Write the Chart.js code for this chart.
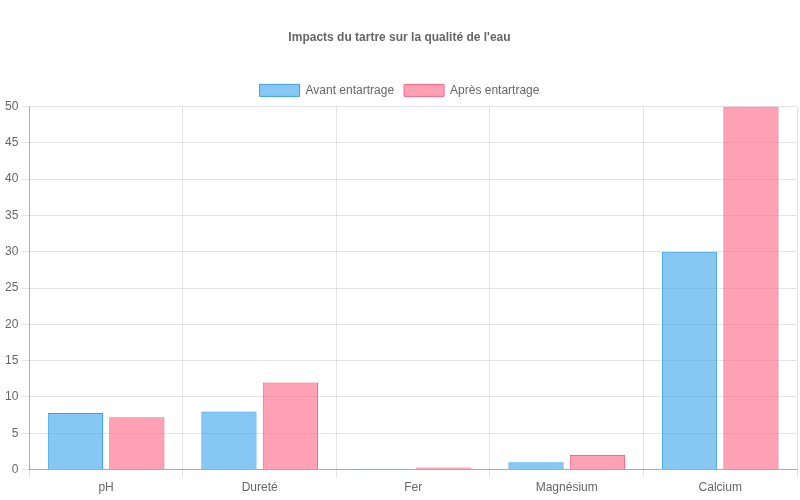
<!DOCTYPE html>
<html>
<head>
<meta charset="utf-8">
<script src="https://cdn.jsdelivr.net/npm/chart.js@4"></script>
<style>
  html, body { margin: 0; padding: 0; background: #fff; }
  #wrap { width: 800px; height: 500px; }
</style>
</head>
<body>
<div id="wrap"><canvas id="Chart-tartre" width="800" height="500"></canvas></div>
<script>
var categories = ['pH', 'Dureté', 'Fer', 'Magnésium', 'Calcium'];
var avantValues = [7.8, 8, 0.1, 1, 30];
var apresValues = [7.2, 12, 0.3, 2, 50];

Chart.defaults.font.family = '"Liberation Sans", Arial, Helvetica, sans-serif';
Chart.defaults.font.size = 12;
Chart.defaults.color = '#666';

var ctx = document.getElementById('Chart-tartre').getContext('2d');
var tartreChart = new Chart(ctx, {
  type: 'bar',
  data: {
    labels: categories,
    datasets: [{
      label: 'Avant entartrage',
      data: avantValues,
      backgroundColor: 'rgba(54, 162, 235, 0.6)',
      borderColor: 'rgb(54, 162, 235)',
      borderWidth: 1
    }, {
      label: 'Après entartrage',
      data: apresValues,
      backgroundColor: 'rgba(255, 99, 132, 0.6)',
      borderColor: 'rgb(255, 99, 132)',
      borderWidth: 1
    }]
  },
  options: {
    responsive: false,
    animation: false,
    layout: {
      padding: { left: 2, right: 3, bottom: 2 }
    },
    plugins: {
      title: {
        display: true,
        text: "Impacts du tartre sur la qualité de l'eau",
        font: { size: 12, weight: 'bold' },
        padding: { top: 30, bottom: 30 }
      },
      legend: {
        labels: { boxWidth: 40, boxHeight: 12 }
      }
    },
    scales: {
      x: {
        grid: { color: 'rgba(0,0,0,0.1)' },
        border: { color: 'rgba(0,0,0,0.25)' }
      },
      y: {
        beginAtZero: true,
        max: 50,
        ticks: { stepSize: 5 },
        grid: { color: 'rgba(0,0,0,0.1)' },
        border: { color: 'rgba(0,0,0,0.25)' }
      }
    }
  }
});
</script>
</body>
</html>
